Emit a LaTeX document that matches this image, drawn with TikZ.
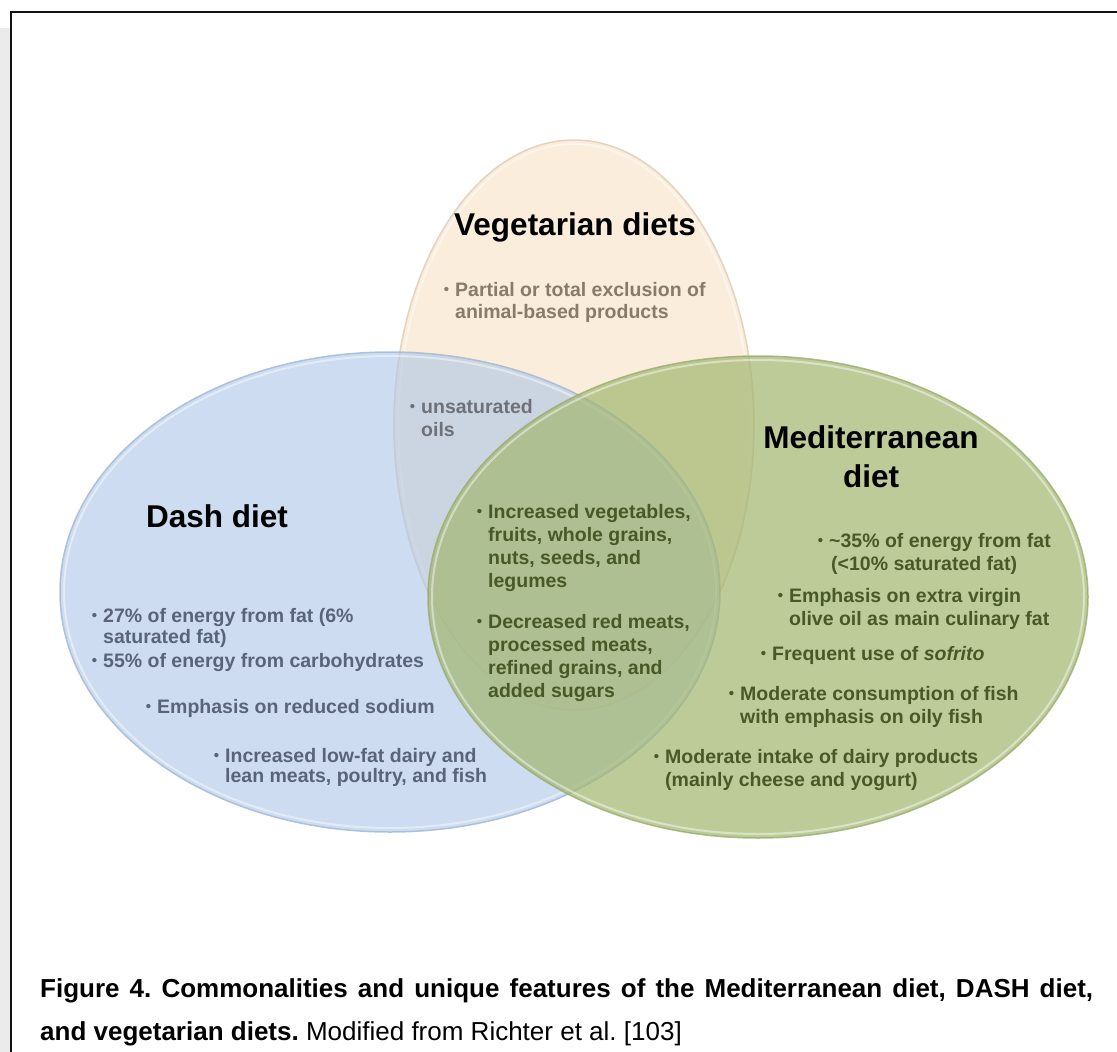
\documentclass[tikz,border=0pt]{standalone}
\usepackage{fontspec}
\setmainfont{Liberation Sans}
\usetikzlibrary{shapes.geometric}
\definecolor{vegfill}{RGB}{250,237,220}
\definecolor{vegline}{RGB}{228,212,190}
\definecolor{dashfill}{RGB}{172,197,230}
\definecolor{dashline}{RGB}{160,183,212}
\definecolor{medfill}{RGB}{162,182,111}
\definecolor{medline}{RGB}{150,170,105}
\definecolor{vegtext}{RGB}{138,122,104}
\definecolor{oiltext}{RGB}{110,113,120}
\definecolor{dashtext}{RGB}{89,100,121}
\definecolor{medtext}{RGB}{72,88,38}
\definecolor{stripgray}{RGB}{235,235,235}
\newcommand\bul{\llap{\raisebox{1.5pt}{\fontsize{15}{15}\selectfont\textbullet}\hspace{6pt}}}
\newcommand\blines[2][23pt]{\vtop{\baselineskip=#1\relax #2}}
\frenchspacing
\begin{document}
\begin{tikzpicture}[x=1pt,y=-1pt,
  setbox/.style={ellipse, inner sep=0pt, line width=1.5pt},
  ttl/.style={font=\fontsize{31.5}{39}\selectfont\bfseries, text=black, inner sep=0pt, anchor=base},
  body/.style={font=\fontsize{19.5}{23}\selectfont\bfseries, inner sep=0pt, anchor=base west},
  vegb/.style={body, text=vegtext},
  oilb/.style={body, text=oiltext},
  dashb/.style={body, text=dashtext},
  medb/.style={body, text=medtext},
  capt/.style={font=\fontsize{26}{43}\selectfont, inner sep=0pt, anchor=base west, text=black},
  glow/.style={white, line width=2pt, opacity=0.45}
]
\useasboundingbox (0,0) rectangle (1117,1052);
\fill[white] (0,0) rectangle (1117,1052);
\fill[stripgray] (0,28) rectangle (9.6,1052);
\draw[line width=2.3pt, color=black!93] (11.2,1052) -- (11.2,12.2) -- (1117,12.2);

% sets
\node[setbox, draw=vegline, fill=vegfill, minimum width=360pt, minimum height=570pt] (veg) at (574,425) {};
\draw[glow] (574,425) ellipse [x radius=176, y radius=281];
\node[setbox, draw=dashline, fill=dashfill, fill opacity=0.6, draw opacity=0.8, minimum width=660pt, minimum height=480pt] (dash) at (390,592) {};
\draw[glow] (390,592) ellipse [x radius=326, y radius=236];
\node[setbox, draw=medline, fill=medfill, fill opacity=0.7, draw opacity=0.75, minimum width=660pt, minimum height=482pt] (med) at (758,597) {};
\draw[glow] (758,597) ellipse [x radius=326, y radius=237];

% titles
\node[ttl] (vegt) at (575,235) {Vegetarian diets};
\node[ttl, anchor=base west] (dasht) at (146,527) {Dash diet};
\node[ttl] (medt) at (871,448) {\vtop{\baselineskip=39pt\relax\halign{\hfil#\hfil\cr Mediterranean\cr diet\cr}}};

% vegetarian
\node[vegb] (v1) at (455,296) {\blines[22pt]{\hbox{\bul Partial or total exclusion of}\hbox{animal-based products}}};
\node[oilb] (o1) at (421,413) {\blines{\hbox{\bul unsaturated}\hbox{oils}}};

% dash
\node[dashb] (d1) at (103,622) {\blines[21pt]{\hbox{\bul 27\% of energy from fat (6\%}\hbox{saturated fat)}}};
\node[dashb] (d2) at (103,667) {\hbox{\bul 55\% of energy from carbohydrates}};
\node[dashb] (d3) at (157,713) {\hbox{\bul Emphasis on reduced sodium}};
\node[dashb] (d4) at (225,762) {\blines[20pt]{\hbox{\bul Increased low-fat dairy and}\hbox{lean meats, poultry, and fish}}};

% common
\node[medb] (c1) at (488,518) {\blines{\hbox{\bul Increased vegetables,}\hbox{fruits, whole grains,}\hbox{nuts, seeds, and}\hbox{legumes}}};
\node[medb] (c2) at (488,628) {\blines{\hbox{\bul Decreased red meats,}\hbox{processed meats,}\hbox{refined grains, and}\hbox{added sugars}}};

% mediterranean
\node[medb] (m1) at (829,547) {\blines{\hbox{\bul \textasciitilde35\% of energy from fat}\hbox{\hspace{2pt}(<10\% saturated fat)}}};
\node[medb] (m2) at (789,602) {\blines{\hbox{\bul Emphasis on extra virgin}\hbox{olive oil as main culinary fat}}};
\node[medb] (m3) at (772,660) {\hbox{\bul Frequent use of \textit{sofrito}}};
\node[medb] (m4) at (740,700) {\blines{\hbox{\bul Moderate consumption of fish}\hbox{with emphasis on oily fish}}};
\node[medb] (m5) at (665,763) {\blines{\hbox{\bul Moderate intake of dairy products}\hbox{(mainly cheese and yogurt)}}};

% caption
\node[capt, font=\fontsize{26}{43}\selectfont\bfseries] (cap1) at (40,997) {\hbox to 1053pt{Figure 4. Commonalities and unique features of the Mediterranean diet, DASH diet,}};
\node[capt] (cap2) at (40,1040) {\textbf{and vegetarian diets.} Modified from Richter et al. [103]};
\end{tikzpicture}
\end{document}
